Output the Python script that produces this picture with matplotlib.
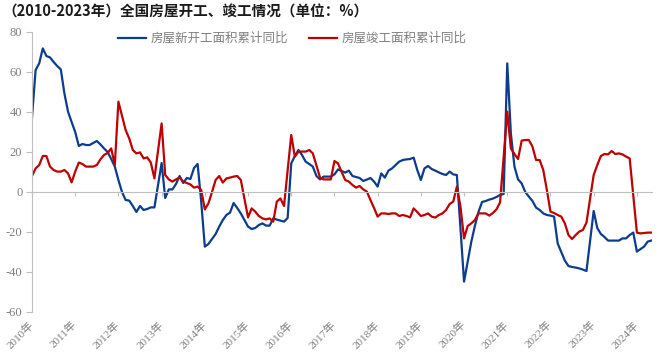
import numpy as np
import matplotlib
matplotlib.use("Agg")
import matplotlib.pyplot as plt

plt.rcParams['font.family'] = ['Noto Sans CJK SC', 'DejaVu Sans']
plt.rcParams['axes.unicode_minus'] = False

TITLE = "（2010-2023年）全国房屋开工、竣工情况（单位：%）"
NEW_LABEL = "房屋新开工面积累计同比"
DONE_LABEL = "房屋竣工面积累计同比"
YEARS = [f"{y}年" for y in range(2010, 2025)]

# months since 2010-01
new_month = [0, 1, 2, 3, 4, 5, 6, 7, 8, 9, 10, 11, 12, 13, 14, 15, 16, 17, 18, 19,
             20, 21, 22, 23, 24, 25, 26, 27, 28, 29, 30, 31, 32, 33, 34, 36, 37, 38, 39, 40,
             41, 42, 43, 44, 45, 46, 47, 48, 49, 50, 51, 52, 53, 54, 55, 56, 57, 58, 59, 60,
             61, 62, 63, 64, 65, 66, 67, 68, 69, 70, 71, 72, 73, 74, 75, 76, 77, 78, 79, 80,
             81, 82, 83, 84, 85, 86, 87, 88, 89, 90, 91, 92, 93, 94, 95, 96, 97, 98, 99, 100,
             101, 102, 103, 104, 105, 106, 107, 108, 109, 110, 111, 112, 113, 114, 115, 116, 117, 118, 120, 121,
             122, 123, 124, 125, 126, 127, 128, 129, 130, 131, 132, 133, 134, 135, 136, 137, 138, 139, 140, 141,
             142, 143, 144, 145, 146, 147, 148, 149, 150, 151, 152, 153, 154, 156, 157, 158, 159, 160, 161, 162,
             163, 164, 165, 166, 167, 168, 170, 171, 172]
new_value = [37.3, 61, 64.3, 71.8, 68, 67.3, 65, 63, 61.3, 49.3, 40.2, 35, 30, 23, 24, 23.5, 23.5, 24.5, 25.5, 23.8,
             21.8, 20, 16.5, 12.7, 6, 0, -4, -4.3, -7, -10, -7, -9, -8.5, -7.7, -7.7, 14.5, -3, 1.3, 1.3, 4,
             8, 4.5, 7, 6.5, 12, 14, -5, -27.3, -26, -23.5, -21, -17.3, -14, -11.5, -10.3, -5.5, -8, -10.7, -14, -17.3,
             -18.5, -18, -16.5, -15.7, -16.8, -16.8, -13.2, -13.8, -14.3, -14.8, -13, 14.3, 18, 21, 18.5, 15.2, 14, 12.7, 8, 6.3,
             7.7, 7.7, 7.7, 8.8, 11.3, 10.5, 9.7, 10.7, 8, 7.5, 7, 5.5, 6.2, 7, 5.2, 2.7, 9.3, 7.2, 10.7, 11.8,
             13.5, 15.2, 16, 16.3, 16.5, 17.2, 11, 6, 11.8, 13, 11.5, 10.7, 9.8, 9, 8.5, 10.2, 8.8, 8.5, -44.8, -35,
             -25, -17, -10, -5, -4.5, -3.8, -3.3, -2.5, -1.5, -1.0, 64.3, 29.3, 12.7, 6.3, 4.3, 0, -2.3, -4.5, -7.8, -9,
             -10.7, -11.5, -11.8, -12.3, -25.7, -30, -34.3, -37, -37.5, -37.8, -38.2, -38.8, -39.5, -9.5, -18, -21, -22.5, -24.3, -24.3, -24.3,
             -24.3, -23.2, -23.2, -21.5, -20.3, -29.8, -27.3, -24.8, -24.3]

done_month = [0, 1, 2, 3, 4, 5, 6, 7, 8, 9, 10, 11, 12, 13, 14, 15, 16, 17, 18, 19,
              20, 21, 22, 23, 24, 25, 26, 27, 28, 29, 30, 31, 32, 33, 34, 36, 37, 38, 39, 40,
              41, 42, 43, 44, 45, 46, 47, 48, 49, 50, 51, 52, 53, 54, 55, 56, 57, 58, 60, 61,
              62, 63, 64, 65, 66, 67, 68, 69, 70, 72, 73, 74, 75, 76, 77, 78, 79, 80, 81, 82,
              83, 84, 85, 86, 87, 88, 89, 90, 91, 92, 93, 94, 95, 96, 97, 98, 99, 100, 101, 102,
              103, 104, 105, 106, 107, 108, 109, 110, 111, 112, 113, 114, 115, 116, 117, 118, 119, 120, 121, 122,
              123, 124, 125, 126, 127, 128, 129, 130, 132, 133, 134, 135, 136, 137, 138, 139, 140, 141, 142, 143,
              144, 145, 146, 147, 148, 149, 150, 151, 152, 153, 154, 156, 157, 158, 159, 160, 161, 162, 163, 164,
              165, 166, 168, 169, 170, 171, 172]
done_value = [8, 11.8, 13.5, 18, 18, 12.7, 11, 10.2, 10.2, 11, 9.3, 4.8, 10.2, 14.7, 14, 12.7, 12.7, 12.7, 13.5, 16.3,
              18.5, 19.5, 21.8, 13.5, 45.2, 38, 31, 26.8, 21, 19.3, 19.8, 16.8, 17.3, 14.7, 6.8, 34.3, 8.5, 6.3, 5.2, 6.3,
              7.3, 5.2, 4.5, 3.8, 2.2, 2.7, 1, -8.7, -5.7, 0, 6, 8, 4.7, 6.8, 7.2, 7.7, 8, 6, -12.7, -8.2,
              -9.8, -12, -13.2, -13.7, -13.2, -14.8, -4.8, -3.2, -7, 28.5, 17.7, 20.2, 20.2, 20.2, 21, 19.3, 13.2, 7.2, 6.3, 6.3,
              6.3, 15.5, 14.3, 10, 6, 5.2, 3.5, 2.2, 3, 1.3, 0.2, -4, -8, -12.3, -10.7, -10.7, -11, -10.7, -10.7, -12,
              -11.5, -12, -12.7, -8.2, -10, -12, -11.5, -10.7, -12.3, -12.8, -11.5, -10.7, -9, -6, -4.8, 2.7, -7.3, -23.2, -17, -15.7,
              -14, -10.7, -10.7, -10.7, -11.8, -10.5, -8.7, -5.2, 40.2, 21.8, 19, 16.5, 25.7, 26, 26, 22.7, 16, 16, 11, 1,
              -9.8, -10.5, -11.5, -12.3, -15.7, -21.5, -23.5, -21.5, -19.8, -19, -15.3, 8.5, 13.5, 18, 19, 18.8, 20.5, 19, 19.3, 18.8,
              17.7, 16.8, -20.3, -20.7, -20.5, -20.3, -20.3]

BLUE = "#0B3D8C"
RED = "#C00000"
GREY = "#BFBFBF"
TEXT = "#7F7F7F"

fig = plt.figure(figsize=(6.59, 3.62), dpi=100)
ax = fig.add_axes([32 / 659, 50 / 362, 620 / 659, 280 / 362])

ax.plot(new_month, new_value, color=BLUE, lw=1.6, label=NEW_LABEL)
ax.plot(done_month, done_value, color=RED, lw=1.6, label=DONE_LABEL)

ax.set_xlim(0, 172.2)
ax.set_ylim(-60, 80)

tick_pos = np.arange(len(YEARS)) * 12
ax.set_yticks(np.arange(-60, 81, 20))
ax.set_xticks(tick_pos)
ax.tick_params(axis="x", direction="out", length=3, color=GREY, labelbottom=False)
ax.tick_params(axis="y", direction="out", length=4, color=GREY, labelsize=9, labelcolor=TEXT, pad=3)
for lab in ax.get_yticklabels():
    lab.set_family(["Liberation Serif", "DejaVu Sans"])

ax.spines["top"].set_visible(False)
ax.spines["right"].set_visible(False)
ax.spines["bottom"].set_position(("data", 0))
ax.spines["bottom"].set_color(GREY)
ax.spines["left"].set_color(GREY)

sec = ax.secondary_xaxis(0)
sec.set_xticks(tick_pos, YEARS)
sec.tick_params(length=0, pad=8, labelsize=8, labelcolor=TEXT)
sec.spines["bottom"].set_visible(False)
for lab in sec.get_xticklabels():
    lab.set_rotation(45)
    lab.set_ha("right")
    lab.set_va("center")
    lab.set_rotation_mode("anchor")
    lab.set_family(["Liberation Serif", "Noto Sans CJK SC"])

fig.legend(loc="upper left", bbox_to_anchor=(118 / 659, 1 - 32 / 362), ncol=2,
           frameon=False, fontsize=9, labelcolor=TEXT, handlelength=2.2,
           handletextpad=0.4, columnspacing=1.7, borderpad=0, borderaxespad=0)

fig.text(0.003, 1 - 12 / 362, TITLE, fontsize=10.5, fontweight="bold",
         color="#1A1A1A", va="center", ha="left")

fig.savefig("out.png", dpi=100)
